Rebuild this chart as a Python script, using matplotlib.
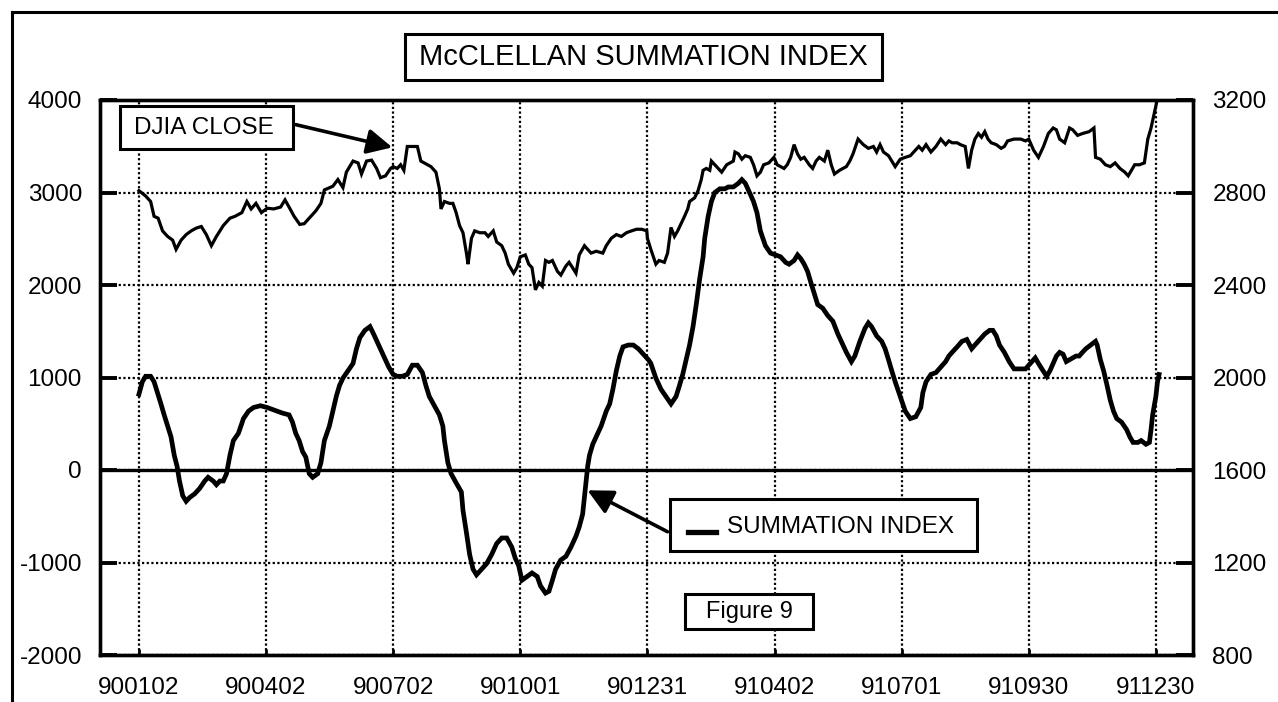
import matplotlib
matplotlib.use("Agg")
import matplotlib.pyplot as plt
from matplotlib.patches import Rectangle, FancyArrowPatch
from matplotlib.lines import Line2D

plt.rcParams['font.family'] = ['Liberation Sans', 'DejaVu Sans']
plt.rcParams['axes.unicode_minus'] = False

# ---------------- data (trading-day index from 900102) ----------------
tick_days = [0, 63, 126, 189, 252, 315, 378, 441, 504]
tick_labels = ['900102', '900402', '900702', '901001', '901231',
               '910402', '910701', '910930', '911230']

djia_days = [0, 3.3, 5.8, 7.5, 9.5, 11.7, 14.2, 16.7, 18.4, 20.9, 23.4, 25.9, 28.4, 30.9, 33.4,
             35.9, 38.4, 41.8, 45.1, 47.6, 51.0, 53.5, 55.6, 58.0, 60.7, 63.5, 66.8, 70.2, 72.4,
             74.4, 76.9, 79.7, 81.9, 84.4, 87.7, 90.2, 91.9, 96.1, 98.6, 101.1, 102.8, 106.1,
             108.6, 110.3, 112.8, 115.3, 117.8,
             119.7, 122.2, 124.7, 126, 128, 129.7, 131.3, 133, 135.5, 138, 139.7, 141.4, 143,
             144.7, 147.2, 148.9, 149.7, 151.4, 153.9, 155.6, 157.2, 158.9, 160.6, 162.3, 163.1,
             164.8, 166.4, 168.9, 171.5, 173.1, 175.6, 177.3, 179.8, 181.5, 183.1, 185.7, 187.3,
             189, 191.5, 193.2, 194.8, 196.5, 198.2, 199.9, 201.5, 203.2, 204.9, 207.4, 209.1,
             211.6, 213.2, 214.9, 216.6, 218.2, 220.8, 222.4, 224.1, 226.6, 229.9, 231.6, 234.1,
             236.6, 239.1, 241.6, 244.1, 246.6, 249.2, 251.7,
             252, 253.7, 256.2, 257.8, 260.4, 262, 263.7, 265.4, 267, 268.7, 270.4, 272, 272.9,
             275.4, 277.1, 278.7, 279.6, 281.2, 282.9, 283.7, 285.4, 287.1, 288.8, 291.3, 292.9,
             294.6, 295.4, 297.1, 298.8, 300.5, 303, 304.6, 306.3, 308, 309.6, 312.2, 314.7,
             316.3, 318, 319.7, 321.3, 323, 324.7, 326.4, 328, 329.7, 332.2, 333.9, 335.6, 337.2,
             339.7, 341.4, 343.1, 344.7, 347.2, 350.6, 352.3, 353.9, 356.4, 359, 361.5, 364,
             365.6, 367.3, 369, 371.5, 373.1, 374.8, 377.3, 379.8, 382.3, 384, 386.5, 388.2,
             390.1, 392.5, 395, 397.4, 399.8, 401.4, 403, 405.5, 407.1, 409.5, 411.1, 412.7,
             414.3, 416, 417.6, 419.2, 420.8, 422.4, 424.9, 427.3, 428.9, 430.5, 433.7, 437,
             439.4, 441, 443.4, 445.8, 448.3, 450.7, 453.1, 454.7, 456.3, 458.8, 461.2, 462.8,
             465.2, 467.6, 470.9, 473.3, 474.1, 476.5, 479, 481.4, 483.8, 486.2, 488.6, 490.3,
             491.9, 493.5, 495.9, 498.3, 500, 501.6, 503.2, 504.8]
djia_close = [2808, 2785, 2761, 2697, 2689, 2634, 2610, 2594, 2554, 2594, 2618, 2634, 2646, 2653, 2618,
              2570, 2610, 2657, 2689, 2697, 2713, 2761, 2729, 2753, 2713, 2732, 2729, 2737, 2768,
              2737, 2697, 2662, 2665, 2689, 2721, 2753, 2811, 2827, 2856, 2821, 2888, 2936,
              2928, 2880, 2936, 2940, 2904,
              2864, 2872, 2904, 2912, 2904, 2920, 2896, 2999, 2999, 2999, 2936, 2928, 2920,
              2912, 2888, 2816, 2729, 2761, 2753, 2753, 2713, 2657, 2626, 2538, 2490,
              2602, 2634, 2626, 2626, 2610, 2634, 2586, 2570, 2538, 2490, 2451, 2475,
              2522, 2530, 2490, 2475, 2379, 2411, 2395, 2506, 2498, 2506, 2459, 2443,
              2482, 2498, 2475, 2451, 2530, 2570, 2554, 2538, 2546, 2538, 2570, 2602,
              2618, 2610, 2626, 2634, 2641, 2641, 2634,
              2602, 2554, 2490, 2506, 2498, 2538, 2649, 2610, 2634, 2665, 2697, 2729, 2761,
              2777, 2808, 2856, 2896, 2904, 2896, 2936, 2920, 2904, 2888, 2920, 2928,
              2936, 2975, 2967, 2944, 2959, 2952, 2920, 2872, 2888, 2920, 2928, 2952,
              2920, 2912, 2904, 2920, 2952, 3007, 2967, 2944, 2952, 2920, 2904, 2936, 2952,
              2936, 2983, 2920, 2880, 2896, 2912, 2936, 2967, 3031, 3007, 2991, 2999,
              2975, 3007, 2975, 2959, 2936, 2912, 2944, 2952, 2959, 2975, 2999, 2983,
              3007, 2975, 2999, 3031, 3007, 3023, 3015, 3015, 3007, 2999, 2904, 2983,
              3031, 3055, 3039, 3063, 3031, 3015, 3007, 2991, 2999, 3023, 3031, 3031,
              3023, 3031, 2983, 2952, 2999, 3055, 3079, 3071, 3031, 3015, 3079, 3071,
              3047, 3055, 3063, 3079, 2952, 2944, 2920, 2912, 2928, 2904, 2888, 2872,
              2896, 2920, 2920, 2928, 3031, 3079, 3142, 3206]

summ_days = [0, 1.7, 3.3, 5.8, 7.5, 9.2, 10.9, 12.5, 14.2, 15.9, 17.5, 18.9, 20.1, 21.7, 23.4,
             25.1, 27.6, 30.1, 32.6, 34.3, 36.8, 38.4, 40.1, 41.8, 43.4, 45.1, 46.8, 49.3, 51.8,
             54.3, 56.8, 60.2, 63.5, 66, 68.5, 71, 74.4, 76.1, 77.7, 79.4, 81.1, 82.7, 84.4, 86.1,
             88.6, 90.2, 91.9, 94.4, 96.1, 97.8, 99.4, 101.1, 103.6, 106.1, 107.8, 109.5, 112,
             114.5, 116.3, 118.8, 121.3, 123.8, 126, 128, 130.5, 133, 135.5, 138, 140.5, 142.2,
             143.9, 146.4, 148.9, 150.6, 151.4, 153.1, 154.7, 157.2, 159.8, 160.6, 162.3, 163.9,
             165.6, 167.3, 169.8, 172.3, 174.8, 177.3, 179.8, 182.3, 184.8, 186.5, 188.2, 189.8,
             192.3, 194.8, 197.4, 199, 201.5, 203.2, 204.9, 206.5, 209, 211.6, 214.1, 216.6,
             218.2, 219.9, 221.6, 222.4, 223.3, 224.9, 226.6, 229.1, 231.6, 233.3, 234.9, 236.6,
             238.3, 239.9, 242.5, 245, 247.5, 250, 252.5,
             253.7, 256.2, 258.7, 261.2, 263.7, 266.2, 267.9, 269.5, 271.2, 272.9, 274.6, 276.2,
             277.9, 279.6, 280.4, 282.1, 283.7, 285.4, 287.9, 290.4, 292.1, 294.6, 297.1, 298.8,
             300.5, 303, 304.6, 306.3, 308, 310.5, 313, 315.5, 318, 320.5, 322.2, 324.7, 326.4,
             328, 329.7, 331.4, 333, 334.7, 336.4, 338.9, 341.4, 343.9, 346.4, 348.9, 350.6,
             353.1, 354.8, 357.3, 359.8, 361.5, 363.1, 365.6, 368.1, 369.8, 371.5, 373.1, 374.8,
             377.3, 379.8, 382.3, 385, 387.5,
             388.5, 390.1, 392.5, 395, 397.4, 399.8, 401.4, 403, 405.5, 407.9, 410.3, 412.7,
             414.3, 416.8, 419.2, 421.6, 423.2, 424.9, 426.5, 428.9, 431.3, 433.7, 437, 439.4,
             441, 442.6, 444.2, 445.8, 447.5, 449.9, 451.5, 453.1, 454.7, 456.3, 458, 459.6,
             461.2, 462.8, 464.4, 466, 467.6, 469.3, 471.7, 474.1, 474.9, 476.5, 478.1, 479.8,
             481.4, 483, 484.6, 487, 489.5, 491.1, 492.7, 495.1, 496.7, 499.1, 500.8, 501.6,
             502.4, 504, 504.8, 505.6]
summation = [820, 954, 1013, 1013, 954, 835, 715, 596, 477, 358, 159, 40, -119, -278, -338,
             -298, -258, -199, -119, -79, -119, -159, -119, -119, -40, 159, 318, 397, 556,
             636, 676, 695, 676, 656, 636, 616, 596, 517, 397, 318, 199, 139, -40, -79,
             -40, 79, 318, 477, 636, 795, 914, 993, 1073, 1152, 1311, 1431, 1510,
             1550, 1470, 1351, 1232, 1113, 1033, 1013, 1013, 1033, 1133, 1133, 1053, 914,
             795, 695, 596, 477, 318, 79, -40, -139, -238, -437, -676, -914,
             -1073, -1133, -1073, -1013, -914, -795, -735, -735, -834, -954, -1033, -1192,
             -1152, -1113, -1152, -1252, -1331, -1311, -1192, -1073, -974, -934, -834, -715,
             -616, -477, -119, 40, 159, 278, 358, 477, 636, 715, 874, 1073,
             1232, 1331, 1351, 1351, 1311, 1252, 1192,
             1152, 993, 874, 795, 715, 795, 914, 1033, 1192, 1351, 1550, 1788,
             2066, 2305, 2504, 2742, 2901, 3000, 3040, 3040, 3060, 3060, 3100, 3139,
             3100, 2981, 2901, 2782, 2583, 2424, 2345, 2325, 2305, 2245, 2225, 2265, 2325,
             2285, 2225, 2146, 2027, 1908, 1788, 1749, 1669, 1609, 1470, 1351, 1272,
             1172, 1232, 1391, 1530, 1590, 1550, 1450, 1391, 1311, 1192, 1073, 954,
             795, 636, 556, 576, 676,
             835, 954, 1033, 1053, 1113, 1172, 1232, 1272, 1331, 1391, 1411, 1311,
             1351, 1411, 1470, 1510, 1510, 1450, 1351, 1272, 1172, 1093, 1093, 1093,
             1133, 1172, 1212, 1152, 1093, 1013, 1073, 1152, 1232, 1272, 1252, 1172,
             1192, 1212, 1232, 1232, 1272, 1311, 1351, 1391, 1351, 1192, 1073, 914,
             755, 636, 556, 517, 437, 358, 298, 298, 318, 278, 298, 437,
             596, 795, 954, 1033]

left_ticks = [-2000, -1000, 0, 1000, 2000, 3000, 4000]
right_ticks = [800, 1200, 1600, 2000, 2400, 2800, 3200]

# ---------------- figure ----------------
W, H = 1278, 702
fig = plt.figure(figsize=(W / 100, H / 100), dpi=100)
fig.patch.set_facecolor('white')

def fx(px):
    return px / W

def fy(py):
    return 1 - py / H

ax = fig.add_axes([fx(100), fy(655), fx(1193) - fx(100), fy(100) - fy(655)])
ax2 = ax.twinx()

ax.set_xlim(-19.3, 522.4)
ax.set_ylim(-2000, 4000)
ax2.set_ylim(800, 3200)

ax.set_xticks(tick_days)
ax.set_xticklabels(tick_labels)
ax.set_yticks(left_ticks)
ax2.set_yticks(right_ticks)

for a in (ax, ax2):
    for s in a.spines.values():
        s.set_linewidth(2.4)
        s.set_color('black')

ax.tick_params(axis='y', direction='in', length=12, width=2.8, labelsize=17.5, pad=13,
               colors='black')
ax2.tick_params(axis='y', direction='in', length=12, width=2.8, labelsize=17.5, pad=14,
                colors='black')
ax.tick_params(axis='x', direction='in', length=4, width=2, labelsize=17.5, pad=16)

ax.grid(True, color='black', linestyle=(0, (1, 1.1)), linewidth=1.6)
ax.axhline(0, color='black', linewidth=2.4, zorder=2)

ax.plot(summ_days, summation, color='black', linewidth=3.4, solid_joinstyle='miter', zorder=3)
ax2.plot(djia_days, djia_close, color='black', linewidth=2.3, solid_joinstyle='miter', zorder=3)

# outer border (left and top)
fig.add_artist(Line2D([fx(12), fx(12)], [fy(702), fy(12)], color='black', lw=2.2))
fig.add_artist(Line2D([fx(12), fx(1278)], [fy(12), fy(12)], color='black', lw=2.2))

def box(x0, y0, x1, y1):
    r = Rectangle((fx(x0), fy(y1)), fx(x1) - fx(x0), fy(y0) - fy(y1),
                  transform=fig.transFigure, facecolor='white', edgecolor='black',
                  linewidth=2.2, zorder=5)
    fig.add_artist(r)

# title
box(405, 34, 882, 80)
fig.text(fx(643), fy(57), 'McCLELLAN SUMMATION INDEX', ha='center', va='center',
         fontsize=21, zorder=6)

# DJIA CLOSE label + arrow
box(120, 106, 293, 149)
fig.text(fx(204), fy(128), 'DJIA CLOSE', ha='center', va='center', fontsize=17.5, zorder=6)
fig.add_artist(FancyArrowPatch(
    (fx(293), fy(124)), (fx(395), fy(148)), transform=fig.transFigure,
    arrowstyle='-|>', mutation_scale=38, linewidth=2.6, color='black', zorder=6))

# SUMMATION INDEX legend + arrow
box(670, 499, 977, 551)
fig.add_artist(Line2D([fx(688), fx(716)], [fy(532), fy(532)], color='black', lw=3.8, zorder=6))
fig.text(fx(727), fy(527), 'SUMMATION INDEX', ha='left', va='center', fontsize=17.5, zorder=6)
fig.add_artist(FancyArrowPatch(
    (fx(670), fy(533)), (fx(585), fy(489)), transform=fig.transFigure,
    arrowstyle='-|>', mutation_scale=38, linewidth=2.6, color='black', zorder=6))

# Figure 9
box(685, 594, 813, 629)
fig.text(fx(749), fy(612), 'Figure 9', ha='center', va='center', fontsize=17, zorder=6)

fig.savefig('out.png', dpi=100, facecolor='white')
